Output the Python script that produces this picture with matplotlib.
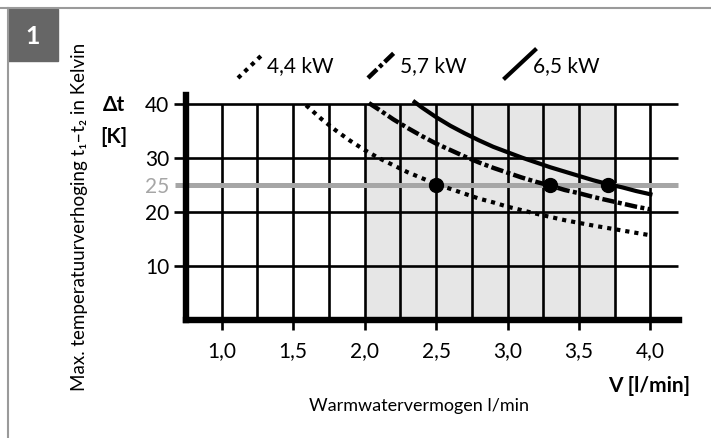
"""Warmwatervermogen: max. temperatuurverhoging per vermogen."""

import matplotlib

matplotlib.use("Agg")
import matplotlib.pyplot as plt
from matplotlib.lines import Line2D
from matplotlib.patches import Rectangle

FONT = ["Lato", "DejaVu Sans"]
plt.rcParams["font.family"] = FONT

# values
flow_44 = [1.59, 1.7, 1.8, 1.9, 2.0, 2.1, 2.2, 2.3, 2.4, 2.5, 2.6, 2.7, 2.8, 2.9, 3.0,
           3.2, 3.4, 3.6, 3.8, 4.0]
dt_44 = [39.8, 37.2, 35.1, 33.2, 31.5, 30.0, 28.7, 27.4, 26.3, 25.2, 24.3, 23.4, 22.5, 21.8, 21.0,
         19.7, 18.5, 17.5, 16.6, 15.7]
flow_57 = [2.03, 2.1, 2.2, 2.3, 2.4, 2.5, 2.6, 2.7, 2.8, 2.9, 3.0, 3.1, 3.2, 3.3, 3.4, 3.5,
           3.6, 3.7, 3.8, 3.9, 4.0]
dt_57 = [40.2, 39.0, 37.2, 35.6, 34.1, 32.7, 31.5, 30.3, 29.2, 28.2, 27.3, 26.4, 25.6, 24.9, 24.1, 23.5,
         22.8, 22.2, 21.6, 21.0, 20.5]
flow_65 = [2.35, 2.4, 2.5, 2.6, 2.7, 2.8, 2.9, 3.0, 3.1, 3.2, 3.3, 3.4, 3.5, 3.6, 3.7, 3.8,
           3.9, 4.0]
dt_65 = [40.4, 39.4, 37.6, 36.0, 34.6, 33.3, 32.1, 31.1, 30.1, 29.2, 28.3, 27.5, 26.7, 25.9, 25.2, 24.6,
         23.9, 23.3]
marker_flow = [2.5, 3.3, 3.7]
marker_dt = [25, 25, 25]
limit_dt = 25
shade_range = [2.0, 3.75]
x_grid = [1.0, 1.25, 1.5, 1.75, 2.0, 2.25, 2.5, 2.75, 3.0, 3.25, 3.5, 3.75, 4.0]
x_ticks = [1.0, 1.5, 2.0, 2.5, 3.0, 3.5, 4.0]
x_labels = ["1,0", "1,5", "2,0", "2,5", "3,0", "3,5", "4,0"]
y_grid = [10, 20, 30, 40]
legend_labels = ["4,4 kW", "5,7 kW", "6,5 kW"]

W, H = 711, 438
fig = plt.figure(figsize=(W / 100, H / 100), dpi=100)


def fx(px):
    return px / W


def fy(py):
    return 1 - py / H


DOTTED = dict(lw=3.0, ls=(0, (1.0, 1.2)))
DASHDOT = dict(lw=3.2, ls=(0, (2.8, 0.75, 0.9, 0.75)))
SOLID = dict(lw=3.0, ls="-")

ax = fig.add_axes([fx(186), fy(320), fx(679 - 186), (320 - 95) / H])
ax.set_xlim(0.75, 4.2)
ax.set_ylim(0, 41.7)

ax.axvspan(shade_range[0], shade_range[1], ymin=0, ymax=40 / 41.7, color="#e6e6e6", lw=0, zorder=0)
ax.vlines(x_grid, 0, 40, color="black", lw=1.9, zorder=1)
ax.hlines(y_grid, 0.75, 4.19, color="black", lw=1.9, zorder=1)
ax.hlines(limit_dt, 0.67, 4.19, color="#a6a6a6", lw=3.6, zorder=2, clip_on=False)

ax.plot(flow_44, dt_44, color="black", zorder=3, **DOTTED)
ax.plot(flow_57, dt_57, color="black", zorder=3, **DASHDOT)
ax.plot(flow_65, dt_65, color="black", zorder=3, **SOLID)
ax.plot(marker_flow, marker_dt, "o", color="black", ms=10, zorder=4)

for side in ["top", "right"]:
    ax.spines[side].set_visible(False)
for side in ["left", "bottom"]:
    ax.spines[side].set_linewidth(4.6)
    ax.spines[side].set_capstyle("projecting")

ax.set_xticks(x_ticks)
ax.set_xticklabels(x_labels)
ax.set_yticks(y_grid + [limit_dt])
ax.set_yticklabels([str(v) for v in y_grid] + ["25"])
ax.get_yticklabels()[-1].set_color("#a6a6a6")
ax.tick_params(axis="x", length=7, width=1.9, pad=8, labelsize=15)
ax.tick_params(axis="y", length=9, width=1.9, pad=3, labelsize=15)
ax.yaxis.get_major_ticks()[-1].tick1line.set_visible(False)
ax.set_facecolor("none")

# legend drawn as diagonal strokes like the reference
legend_pos = [(238, 78, 264, 53, 267), (368, 78, 395, 52, 400), (505, 78, 535, 50, 533)]
for label, style, (x0, y0, x1, y1, tx) in zip(legend_labels, [DOTTED, DASHDOT, SOLID], legend_pos):
    fig.add_artist(Line2D([fx(x0), fx(x1)], [fy(y0), fy(y1)], color="black",
                          transform=fig.transFigure, **style))
    fig.text(fx(tx), fy(66), label, fontsize=15, va="center", ha="left")

fig.text(fx(114), fy(105), "Δt", fontsize=15, fontweight="bold", ha="center", va="center")
fig.text(fx(114), fy(137), "[K]", fontsize=15, fontweight="bold", ha="center", va="center")
fig.text(fx(690), fy(386), "V [l/min]", fontsize=15, fontweight="bold", ha="right", va="center")
fig.text(fx(419), fy(406), "Warmwatervermogen l/min", fontsize=13, ha="center", va="center")
fig.text(fx(80), fy(217), "Max. temperatuurverhoging t₁–t₂ in Kelvin", fontsize=13.5,
         rotation=90, ha="center", va="center")

# panel frame and number badge
fig.add_artist(Line2D([0, 1], [fy(8), fy(8)], color="#9a9a9a", lw=1.5, transform=fig.transFigure))
fig.add_artist(Line2D([fx(8), fx(8)], [fy(8), 0], color="#9a9a9a", lw=1.5, transform=fig.transFigure))
fig.add_artist(Rectangle((fx(8), fy(61)), fx(50), (61 - 9) / H, color="#666666",
                         transform=fig.transFigure))
fig.text(fx(33), fy(36), "1", fontsize=18, fontweight="bold", color="white", ha="center", va="center")

fig.savefig("out.png", dpi=100)
